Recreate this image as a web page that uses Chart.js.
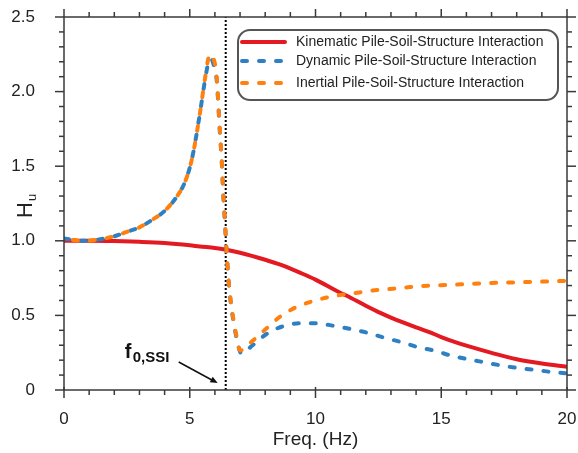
<!DOCTYPE html>
<html>
<head>
<meta charset="utf-8">
<script src="https://cdn.jsdelivr.net/npm/chart.js@4.4.0/dist/chart.umd.min.js"></script>
<style>
html, body { margin: 0; padding: 0; background: #fff; }
</style>
</head>
<body>
<canvas id="chart" width="578" height="453"></canvas>
<script>
// values
var kinFreq = [0, 1, 2, 3, 4, 5, 5.4, 6, 6.4, 7, 8, 8.6, 9.4, 10, 11, 11.2, 12, 12.6, 13, 14, 14.5, 15, 15.5, 16, 17, 18, 19, 20];
var kinHu = [1.0, 1.0, 0.998, 0.993, 0.985, 0.97, 0.962, 0.952, 0.942, 0.92, 0.873, 0.84, 0.785, 0.74, 0.65, 0.635, 0.565, 0.515, 0.485, 0.42, 0.39, 0.355, 0.324, 0.297, 0.249, 0.206, 0.177, 0.155];

var dynFreq = [0, 0.4, 0.8, 1.5, 2, 2.5, 3, 3.5, 4, 4.5, 4.8, 5, 5.15, 5.4, 5.6, 5.75, 5.85, 5.95, 6.07, 6.2, 6.27, 6.33, 6.4, 6.46, 6.53, 6.62, 6.73, 6.86, 7.05, 7.5, 8.05, 8.65, 9.35, 10.05, 10.7, 11.4, 12.05, 12.75, 13.45, 14.1, 14.75, 15.4, 16.1, 16.8, 17.5, 18.15, 18.8, 19.5, 20];
var dynHu = [1.015, 1.005, 1.0, 1.012, 1.03, 1.06, 1.09, 1.14, 1.2, 1.3, 1.39, 1.49, 1.6, 1.85, 2.07, 2.2, 2.22, 2.18, 2.08, 1.72, 1.54, 1.32, 1.12, 0.94, 0.76, 0.6, 0.47, 0.35, 0.245, 0.3, 0.375, 0.424, 0.447, 0.447, 0.431, 0.408, 0.384, 0.35, 0.319, 0.286, 0.263, 0.23, 0.205, 0.183, 0.161, 0.145, 0.134, 0.118, 0.112];

var inFreq = [0, 0.4, 0.8, 1.5, 2, 2.5, 3, 3.5, 4, 4.5, 4.8, 5, 5.15, 5.4, 5.6, 5.75, 5.85, 5.95, 6.07, 6.2, 6.27, 6.33, 6.4, 6.46, 6.53, 6.62, 6.73, 6.86, 7.0, 7.5, 8.0, 8.5, 9.05, 9.7, 10.4, 11.05, 11.75, 12.45, 13.1, 13.75, 14.45, 15.15, 15.8, 16.55, 17.25, 17.95, 18.65, 19.35, 20];
var inHu = [1.015, 1.005, 1.0, 1.012, 1.03, 1.06, 1.09, 1.14, 1.2, 1.3, 1.39, 1.49, 1.6, 1.85, 2.08, 2.23, 2.25, 2.22, 2.1, 1.74, 1.55, 1.33, 1.13, 0.95, 0.77, 0.61, 0.48, 0.36, 0.265, 0.33, 0.405, 0.48, 0.54, 0.585, 0.618, 0.638, 0.654, 0.67, 0.679, 0.69, 0.699, 0.703, 0.708, 0.714, 0.719, 0.721, 0.725, 0.728, 0.732];

var f0 = 6.43;
var seriesNames = ['Kinematic Pile-Soil-Structure Interaction', 'Dynamic Pile-Soil-Structure Interaction', 'Inertial Pile-Soil-Structure Interaction'];
var xTicks = [0, 5, 10, 15, 20];
var yTicks = [0, 0.5, 1.0, 1.5, 2.0, 2.5];

var FONT = '"Liberation Sans", Arial, Helvetica, sans-serif';
var axisColor = '#3a3a3a';
var textColor = '#222';

function pts(xs, ys) {
    var out = [];
    for (var i = 0; i < xs.length; i++) {
        out.push({x: xs[i], y: ys[i]});
    }
    return out;
}

function seg(ctx, x1, y1, x2, y2) {
    ctx.beginPath();
    ctx.moveTo(x1, y1);
    ctx.lineTo(x2, y2);
    ctx.stroke();
}

// box frame, tick marks, y title, annotation
var framePlugin = {
    id: 'frame',
    afterDraw: function(chart) {
        var ctx = chart.ctx, a = chart.chartArea;
        var xs = chart.scales.x, ys = chart.scales.y;
        ctx.save();
        ctx.strokeStyle = axisColor;
        ctx.lineWidth = 1.5;
        ctx.lineCap = 'butt';
        ctx.strokeRect(a.left, a.top, a.right - a.left, a.bottom - a.top);
        for (var i = xs.min; i <= xs.max; i++) {
            var px = xs.getPixelForValue(i), big = i % 5 === 0;
            seg(ctx, px, a.bottom - (big ? 3 : 0), px, a.bottom + (big ? 8 : 5));
            seg(ctx, px, a.top, px, a.top - (big ? 8 : 5));
        }
        for (var j = 0; j <= Math.round(ys.max * 10); j++) {
            var py = ys.getPixelForValue(j / 10), bigy = j % 5 === 0;
            seg(ctx, a.left - (bigy ? 9 : 5), py, a.left, py);
            seg(ctx, a.right, py, a.right + (bigy ? 9 : 5), py);
        }

        // y axis title H_u
        ctx.save();
        ctx.translate(32, 218);
        ctx.rotate(-Math.PI / 2);
        ctx.fillStyle = textColor;
        ctx.textBaseline = 'alphabetic';
        ctx.textAlign = 'left';
        ctx.font = '22px ' + FONT;
        ctx.fillText('H', 0, 0);
        var w = ctx.measureText('H').width;
        ctx.font = '13px ' + FONT;
        ctx.fillText('u', w + 1, 4);
        ctx.restore();

        // f0,SSI label and arrow
        var fx = xs.getPixelForValue(f0);
        ctx.fillStyle = '#111';
        ctx.textAlign = 'left';
        ctx.textBaseline = 'alphabetic';
        ctx.font = 'bold 20px ' + FONT;
        ctx.fillText('f', fx - 101, a.bottom - 32);
        ctx.font = 'bold 15px ' + FONT;
        ctx.fillText('0,SSI', fx - 93, a.bottom - 28);
        var x1 = fx - 47, y1 = a.bottom - 28, x2 = fx - 8, y2 = a.bottom - 7;
        ctx.strokeStyle = '#111';
        ctx.lineWidth = 1.5;
        seg(ctx, x1, y1, x2 - 4, y2 - 2);
        var ang = Math.atan2(y2 - y1, x2 - x1);
        ctx.beginPath();
        ctx.moveTo(x2, y2);
        ctx.lineTo(x2 - 8 * Math.cos(ang - 0.4), y2 - 8 * Math.sin(ang - 0.4));
        ctx.lineTo(x2 - 8 * Math.cos(ang + 0.4), y2 - 8 * Math.sin(ang + 0.4));
        ctx.closePath();
        ctx.fillStyle = '#111';
        ctx.fill();
        ctx.restore();
    }
};

// rounded legend box
var legendPlugin = {
    id: 'boxLegend',
    afterDraw: function(chart) {
        var ctx = chart.ctx;
        ctx.save();
        ctx.fillStyle = '#fff';
        ctx.strokeStyle = '#555';
        ctx.lineWidth = 2;
        ctx.beginPath();
        ctx.roundRect(238, 30, 320, 70, 12);
        ctx.fill();
        ctx.stroke();
        var rows = [42, 61, 83];
        for (var i = 0; i < 3; i++) {
            var ds = chart.data.datasets[i];
            ctx.strokeStyle = ds.borderColor;
            ctx.lineWidth = ds.borderWidth;
            ctx.lineCap = ds.borderCapStyle || 'butt';
            ctx.setLineDash(ds.borderDash || []);
            seg(ctx, 242, rows[i], 285, rows[i]);
            ctx.setLineDash([]);
            ctx.fillStyle = textColor;
            ctx.font = '14px ' + FONT;
            ctx.textAlign = 'left';
            ctx.textBaseline = 'middle';
            ctx.fillText(ds.label, 296, rows[i]);
        }
        ctx.restore();
    }
};

Chart.defaults.font.family = FONT;

var chart = new Chart(document.getElementById('chart'), {
    type: 'line',
    data: {
        datasets: [{
            label: seriesNames[0],
            data: pts(kinFreq, kinHu),
            borderColor: '#e31a22',
            borderWidth: 4,
            borderCapStyle: 'round',
            cubicInterpolationMode: 'monotone',
            pointRadius: 0,
            order: 3
        }, {
            label: seriesNames[1],
            data: pts(dynFreq, dynHu),
            borderColor: '#2f80c2',
            borderWidth: 4,
            borderDash: [5, 12],
            borderCapStyle: 'round',
            cubicInterpolationMode: 'monotone',
            pointRadius: 0,
            order: 2
        }, {
            label: seriesNames[2],
            data: pts(inFreq, inHu),
            borderColor: '#ff800e',
            borderWidth: 4,
            borderDash: [5, 12],
            borderDashOffset: 8,
            borderCapStyle: 'round',
            cubicInterpolationMode: 'monotone',
            pointRadius: 0,
            order: 1
        }, {
            label: 'f0',
            data: [{x: f0, y: yTicks[0]}, {x: f0, y: yTicks[yTicks.length - 1]}],
            borderColor: '#000',
            borderWidth: 2,
            borderDash: [2, 2],
            pointRadius: 0,
            order: 4
        }]
    },
    options: {
        responsive: false,
        animation: false,
        layout: { autoPadding: false, padding: { top: 17, right: 11, left: 0, bottom: 0 } },
        plugins: {
            legend: { display: false },
            tooltip: { enabled: false }
        },
        scales: {
            x: {
                type: 'linear',
                min: xTicks[0],
                max: xTicks[xTicks.length - 1],
                afterBuildTicks: function(s) { s.ticks = xTicks.map(function(v) { return {value: v}; }); },
                afterFit: function(s) { s.height = 63; s.paddingLeft = 0; s.paddingRight = 0; },
                grid: { display: false, drawTicks: false },
                border: { display: false },
                ticks: { font: { size: 17 }, color: textColor, padding: 19, maxRotation: 0 },
                title: { display: true, text: 'Freq. (Hz)', font: { size: 19 }, color: textColor, padding: { top: 0, bottom: 2 } }
            },
            y: {
                min: yTicks[0],
                max: yTicks[yTicks.length - 1],
                afterBuildTicks: function(s) { s.ticks = yTicks.map(function(v) { return {value: v}; }); },
                afterFit: function(s) { s.width = 64; s.paddingTop = 0; s.paddingBottom = 0; },
                grid: { display: false, drawTicks: false },
                border: { display: false },
                ticks: {
                    font: { size: 17 },
                    color: textColor,
                    padding: 29,
                    callback: function(v) { return v === 0 ? '0' : v.toFixed(1); }
                }
            }
        }
    },
    plugins: [framePlugin, legendPlugin]
});
</script>
</body>
</html>
